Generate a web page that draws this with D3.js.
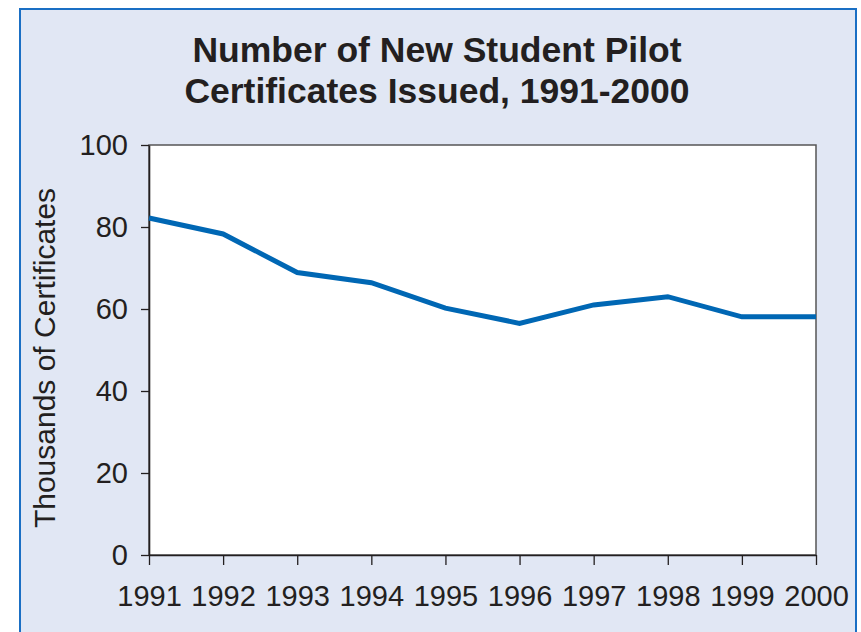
<!DOCTYPE html>
<html><head><meta charset="utf-8">
<script src="https://cdn.jsdelivr.net/npm/d3@7"></script>
<style>body{margin:0;background:#fff}svg{display:block}</style>
</head><body>
<svg id="c" width="861" height="632"></svg>
<script>
const years = [1991,1992,1993,1994,1995,1996,1997,1998,1999,2000];
const certificates = [82.2,78.3,68.9,66.4,60.2,56.5,61.0,63.0,58.1,58.1];
const yTicks = [0,20,40,60,80,100];
const titleLines = ["Number of New Student Pilot","Certificates Issued, 1991-2000"];
const yLabel = "Thousands of Certificates";

const svg = d3.select("#c");
const font = "'Liberation Sans', Arial, sans-serif";
const ink = "#231f20";

svg.append("rect").attr("x",20).attr("y",9).attr("width",836).attr("height",640)
  .attr("fill","#e1e7f4").attr("stroke","#1a6fc4").attr("stroke-width",2);

const L=149,R=816,T=145,B=555;
const x = d3.scaleLinear().domain([1991,2000]).range([L,R]);
const y = d3.scaleLinear().domain([0,100]).range([B,T]);

svg.append("rect").attr("x",L).attr("y",T).attr("width",R-L).attr("height",B-T)
  .attr("fill","#fff").attr("stroke","#555").attr("stroke-width",1.5);

const ya = svg.append("g").attr("transform",`translate(${L},0)`)
  .call(d3.axisLeft(y).tickValues(yTicks).tickSize(8).tickPadding(13).tickSizeOuter(0));
const xa = svg.append("g").attr("transform",`translate(0,${B})`)
  .call(d3.axisBottom(x).tickValues(years).tickFormat(d3.format("d")).tickSize(10).tickPadding(20).tickSizeOuter(0));
[ya,xa].forEach(g=>{
  g.selectAll("path.domain").attr("stroke",ink).attr("stroke-width",1.6);
  g.selectAll(".tick line").attr("stroke",ink).attr("stroke-width",1.3);
  g.selectAll("text").attr("fill",ink).attr("font-family",font).attr("font-size",29);
});
xa.selectAll("text").attr("dy","0.71em");

const line = d3.line().x((d,i)=>x(years[i])).y(d=>y(d));
svg.append("path").datum(certificates).attr("d",line)
  .attr("fill","none").attr("stroke","#0067b4").attr("stroke-width",5).attr("stroke-linejoin","miter");

svg.append("text").attr("transform","translate(55,358) rotate(-90)")
  .attr("text-anchor","middle").attr("font-family",font).attr("font-size",30).attr("fill",ink).text(yLabel);

svg.selectAll("text.title").data(titleLines).join("text").attr("class","title")
  .attr("x",437).attr("y",(d,i)=>62+i*41).attr("text-anchor","middle")
  .attr("font-family",font).attr("font-weight","bold").attr("font-size",35.5).attr("fill",ink).text(d=>d);
</script>
</body></html>
